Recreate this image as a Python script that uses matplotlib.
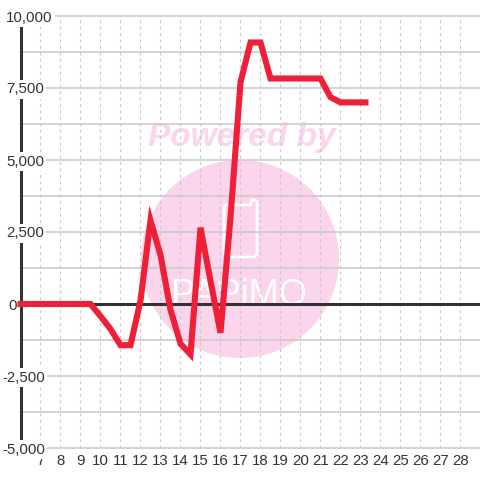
import matplotlib
matplotlib.use("Agg")
import matplotlib.pyplot as plt
from matplotlib.patches import Ellipse
from matplotlib.lines import Line2D
from matplotlib.transforms import ScaledTranslation

hours = [5.85, 6, 6.5, 7, 7.5, 8, 8.5, 9, 9.5, 10, 10.5, 11, 11.5, 12, 12.5, 13, 13.5, 14, 14.5,
         15, 15.5, 16, 16.5, 17, 17.5, 18, 18.5, 19, 19.5, 20, 20.5, 21, 21.5, 22, 22.5, 23, 23.4]
values = [0, 0, 0, 0, 0, 0, 0, 0, 0, -420, -870, -1430, -1430, 120, 2900, 1700, -200, -1380, -1750,
          2650, 800, -1000, 3000, 7700, 9080, 9080, 7830, 7830, 7830, 7830, 7830, 7830, 7180, 7000, 7000, 7000, 7000]
x_ticks = list(range(7, 29))
y_ticks = [-5000, -2500, 0, 2500, 5000, 7500, 10000]
y_tick_labels = ["-5,000", "-2,500", "0", "2,500", "5,000", "7,500", "10,000"]
y_minor = [-3750, -1250, 1250, 3750, 6250, 8750]

DARK = "#333333"
GRID = "#c8c8c8"
RED = "#f01f38"
PINK = "#fbd5ec"
W = 480

plt.rcParams["font.family"] = ["Liberation Sans", "DejaVu Sans"]
fig = plt.figure(figsize=(4.8, 4.8), dpi=100, facecolor="white")
ax = fig.add_axes([20.5 / W, 32 / W, 459.5 / W, 432 / W])
ax.set_xlim(6, 6 + 459.5 / 20)
ax.set_ylim(-5000, 10000)
ax.set_facecolor("white")

for s in ("top", "right", "bottom"):
    ax.spines[s].set_visible(False)
ax.spines["left"].set_color(DARK)
ax.spines["left"].set_linewidth(2.2)
ax.spines["left"].set_zorder(2.5)

# watermark
ax.add_patch(Ellipse((0.5 * (240 - 20.5) / 229.75, 0), 0, 0, visible=False))
fig.add_artist(Ellipse((240 / W, 1 - 259 / W), 198 / W, 198 / W, transform=fig.transFigure,
                       facecolor=PINK, edgecolor="none", zorder=-3))
fig.patch.set_zorder(-10)
ax.patch.set_visible(False)
fig.text(241.5 / W, 1 - 146 / W, "Powered by", fontsize=24, fontweight="bold", fontstyle="italic",
         color=PINK, ha="center", va="baseline", zorder=-2)
fig.text(239 / W, 1 - 305 / W, "PAPiMO", fontsize=26, color="white", ha="center", va="baseline", zorder=-2)
px = [250, 225, 224, 224, 227, 254, 257, 257, 255, 252, 250]
py = [205, 205, 207, 254, 257, 257, 254, 202, 200, 200, 205]
fig.add_artist(Line2D([p / W for p in px], [1 - p / W for p in py], transform=fig.transFigure,
                      color="white", lw=1.9, solid_joinstyle="round", zorder=-2))

# grid
ax.set_xticks(x_ticks)
ax.grid(axis="x", color=GRID, lw=0.8, linestyle=(0, (2.6, 3.2)))
ax.xaxis.set_zorder(1.5)
for v in y_ticks + y_minor:
    ax.axhline(v, color=GRID, lw=1.1, zorder=1.2, clip_on=False)
ax.axhline(0, color=DARK, lw=2.2, zorder=2)

ax.plot(hours, values, color=RED, lw=4.4, zorder=5, clip_on=False,
        solid_capstyle="butt", solid_joinstyle="miter")

# ticks
ax.yaxis.set_zorder(3)
ax.set_yticks(y_ticks)
ax.set_yticklabels(y_tick_labels)
ax.tick_params(axis="x", length=0, pad=4.5, labelsize=10.8, labelcolor=DARK)
ax.tick_params(axis="y", length=0, pad=0, labelsize=10.8, labelcolor=DARK)
offsets = {"0": 8, "-2,500": 2, "-5,000": 2}
for lab in ax.get_yticklabels():
    lab.set_ha("left")
    lab.set_bbox(dict(facecolor="white", edgecolor="none", pad=1.5))
    dx = (offsets.get(lab.get_text(), 6) - 20.5) / 100
    lab.set_transform(lab.get_transform() + ScaledTranslation(dx, 0, fig.dpi_scale_trans))

fig.savefig("out.png", dpi=100)
